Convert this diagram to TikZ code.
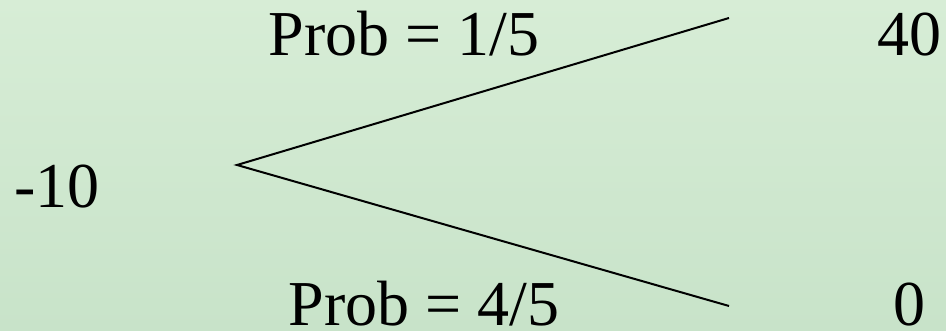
\documentclass[tikz,border=0pt]{standalone}
\usepackage{fontspec}
\setmainfont{Liberation Serif}
\definecolor{bgtop}{RGB}{215,237,214}
\definecolor{bgbot}{RGB}{200,227,201}
\begin{document}
\begin{tikzpicture}[x=1pt,y=1pt,
  lbl/.style={inner sep=0pt, anchor=base, font=\fontsize{64}{70}\selectfont},
  branch/.style={line width=2pt, black}]
\shade[top color=bgtop, bottom color=bgbot] (0,0) rectangle (946,331);
\useasboundingbox (0,0) rectangle (946,331);
\coordinate (root) at (237,166);
\coordinate (up) at (729,313);
\coordinate (down) at (729,25);
\node[lbl] (start) at (57,123) {-10};
\node[lbl] (p1) at (404,275) {Prob = 1/5};
\node[lbl] (p2) at (424,5) {Prob = 4/5};
\node[lbl] (v1) at (909.5,275) {40};
\node[lbl] (v2) at (909,5) {0};
\draw[branch] (up) -- (root) -- (down);
\end{tikzpicture}
\end{document}
